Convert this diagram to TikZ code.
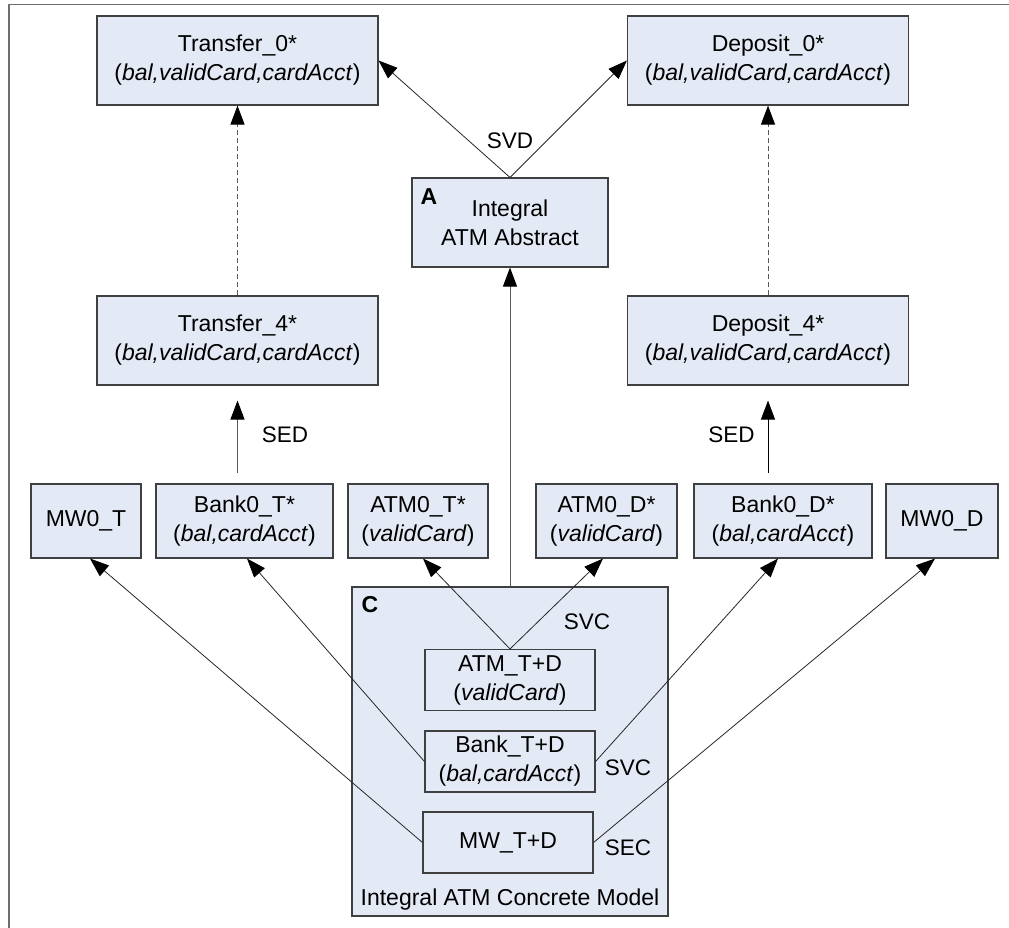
\documentclass[tikz,border=0pt]{standalone}
\usepackage{fontspec}
\setmainfont{Liberation Sans}
\usetikzlibrary{arrows.meta,calc}
\definecolor{boxfill}{RGB}{228,234,245}
\definecolor{boxline}{RGB}{64,64,64}
\definecolor{framecol}{RGB}{110,110,110}
\definecolor{dashcol}{RGB}{90,90,90}
\begin{document}
\begin{tikzpicture}[x=1pt,y=-1pt,
  every node/.style={font=\fontsize{23}{29}\selectfont, align=center, inner sep=0pt},
  box/.style={draw=boxline, fill=boxfill, line width=1.1pt},
  bigbox/.style={box, minimum width=281pt, minimum height=89pt},
  midbox/.style={box, minimum height=74pt},
  inbox/.style={draw=boxline, fill=boxfill, line width=1.1pt, minimum width=170pt, minimum height=61pt},
  tip/.style={-{Triangle[length=19pt,width=14pt,color=black]}},
  conn/.style={draw=black!85, line width=0.8pt, tip},
  dashconn/.style={draw=dashcol, line width=1pt, dash pattern=on 5pt off 3pt, tip},
  lbl/.style={font=\fontsize{22.5}{27}\selectfont},
  tag/.style={font=\fontsize{23}{26}\selectfont\bfseries}
]
\useasboundingbox (0,0) rectangle (1009,928);

% outer frame (open on the right and at the bottom)
\draw[framecol, line width=1.6pt] (9,928) -- (9,4.5) -- (1009,4.5);

% top level specifications
\node[bigbox] (T0) at (237.5,60.5) {Transfer\_0*\\(\textit{bal,validCard,cardAcct})};
\node[bigbox] (D0) at (768,60.5) {Deposit\_0*\\(\textit{bal,validCard,cardAcct})};

% abstract model
\node[box, minimum width=196pt, minimum height=89pt] (A) at (510,222.5) {Integral\\ATM Abstract};
\node[tag] (Atag) at (429,197) {A};

% intermediate specifications
\node[bigbox] (T4) at (237.5,340.5) {Transfer\_4*\\(\textit{bal,validCard,cardAcct})};
\node[bigbox] (D4) at (768,340.5) {Deposit\_4*\\(\textit{bal,validCard,cardAcct})};

% component specifications
\node[midbox, minimum width=110pt] (MWT) at (86,521) {MW0\_T};
\node[midbox, minimum width=177pt] (BKT) at (244.5,521) {Bank0\_T*\\(\textit{bal,cardAcct})};
\node[midbox, minimum width=140pt] (ATT) at (418,521) {ATM0\_T*\\(\textit{validCard})};
\node[midbox, minimum width=141pt] (ATD) at (606.5,521) {ATM0\_D*\\(\textit{validCard})};
\node[midbox, minimum width=178pt] (BKD) at (783,521) {Bank0\_D*\\(\textit{bal,cardAcct})};
\node[midbox, minimum width=112pt] (MWD) at (942,521) {MW0\_D};

% concrete model
\node[box, minimum width=316pt, minimum height=329pt] (C) at (510,751.5) {};
\node[tag] (Ctag) at (370,605) {C};
\node (Cname) at (510,900) {Integral ATM Concrete Model};
\node[inbox] (ATC) at (510,680) {ATM\_T+D\\(\textit{validCard})};
\node[inbox] (BKC) at (510,761.5) {Bank\_T+D\\(\textit{bal,cardAcct})};
\node[inbox] (MWC) at (508,842.5) {MW\_T+D};

% labels of the relations
\node[lbl] (svd) at (510,141) {SVD};
\node[lbl] (sedL) at (285,435) {SED};
\node[lbl] (sedR) at (731.5,435) {SED};
\node[lbl] (svc1) at (587,622) {SVC};
\node[lbl] (svc2) at (628,768) {SVC};
\node[lbl] (sec) at (628,848) {SEC};

% abstract to top level
\draw[conn] (A.north) -- (T0.east);
\draw[conn] (A.north) -- (D0.west);

% refinement chains
\draw[dashconn] (T4.north) -- (T0.south);
\draw[dashconn] (D4.north) -- (D0.south);
\coordinate (sedLend) at (237.5,473);
\coordinate (sedRend) at (768,473);
\draw[conn, draw=dashcol, line width=1pt, shorten >=15pt] (sedLend) -- (T4.south);
\draw[conn, draw=black, line width=1pt, shorten >=15pt] (sedRend) -- (D4.south);

% concrete to abstract
\draw[conn, draw=dashcol, line width=1pt] (C.north) -- (A.south);

% concrete components to component specifications
\draw[conn] (ATC.north) -- ([xshift=5pt]ATT.south);
\draw[conn] (ATC.north) -- ([xshift=-3.5pt]ATD.south);
\draw[conn] (BKC.west) -- ([xshift=2.5pt]BKT.south);
\draw[conn] (BKC.east) -- ([xshift=-5pt]BKD.south);
\draw[conn] (MWC.west) -- ([xshift=4pt]MWT.south);
\draw[conn] (MWC.east) -- ([xshift=-7pt]MWD.south);
\end{tikzpicture}
\end{document}
